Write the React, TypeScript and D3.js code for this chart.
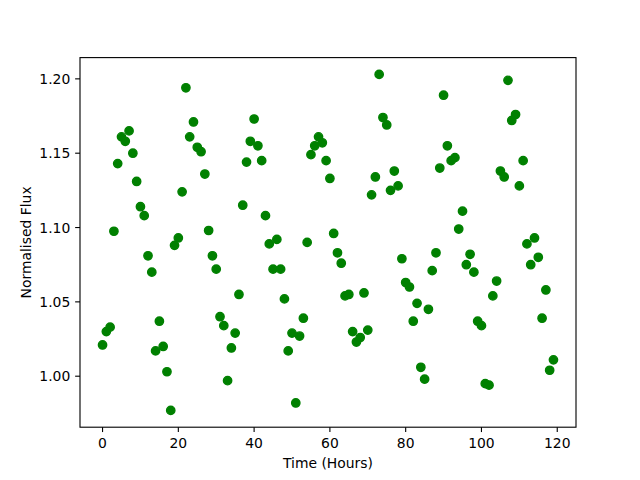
import React from "react";
import * as d3 from "d3";

const hours: number[] = Array.from({ length: 120 }, (_, i) => i);
const flux: number[] = [
  1.021, 1.03, 1.033, 1.0975, 1.143, 1.161, 1.158, 1.165, 1.15, 1.131,
  1.114, 1.108, 1.081, 1.07, 1.017, 1.037, 1.02, 1.003, 0.977, 1.088,
  1.093, 1.124, 1.194, 1.161, 1.171, 1.154, 1.151, 1.136, 1.098, 1.081,
  1.072, 1.04, 1.034, 0.997, 1.019, 1.029, 1.055, 1.115, 1.144, 1.158,
  1.173, 1.155, 1.145, 1.108, 1.089, 1.072, 1.092, 1.072, 1.052, 1.017,
  1.029, 0.982, 1.027, 1.039, 1.09, 1.149, 1.155, 1.161, 1.157, 1.145,
  1.133, 1.096, 1.083, 1.076, 1.054, 1.055, 1.03, 1.023, 1.026, 1.056,
  1.031, 1.122, 1.134, 1.203, 1.174, 1.169, 1.125, 1.138, 1.128, 1.079,
  1.063, 1.06, 1.037, 1.049, 1.006, 0.998, 1.045, 1.071, 1.083, 1.14,
  1.189, 1.155, 1.145, 1.147, 1.099, 1.111, 1.075, 1.082, 1.07, 1.037,
  1.034, 0.995, 0.994, 1.054, 1.064, 1.138, 1.134, 1.199, 1.172, 1.176,
  1.128, 1.145, 1.089, 1.075, 1.093, 1.08, 1.039, 1.058, 1.004, 1.011,
];
const xTicks: number[] = [0, 20, 40, 60, 80, 100, 120];
const yTicks: number[] = [1.0, 1.05, 1.1, 1.15, 1.2];
const xLabel = "Time (Hours)";
const yLabel = "Normalised Flux";

export default function App() {
  const W = 640, H = 480;
  const left = 80, right = 576, top = 57.6, bottom = 427.2;
  const [xmin, xmax] = d3.extent(hours) as [number, number];
  const [ymin, ymax] = d3.extent(flux) as [number, number];
  const xm = (xmax - xmin) * 0.05;
  const ym = (ymax - ymin) * 0.05;
  const x = d3.scaleLinear().domain([xmin - xm, xmax + xm]).range([left, right]);
  const y = d3.scaleLinear().domain([ymin - ym, ymax + ym]).range([bottom, top]);
  const font = "DejaVu Sans, sans-serif";
  const tickLen = 4.86;
  const lw = 1.11;
  return (
    <svg width={W} height={H} style={{ position: "absolute", left: 0, top: 0 }} fontFamily={font}>
      <rect x={0} y={0} width={W} height={H} fill="#fff" />
      <g>
        {hours.map((h, i) => (
          <circle key={i} cx={x(h)} cy={y(flux[i])} r={4.17} fill="#008000" stroke="#008000" strokeWidth={1.39} />
        ))}
      </g>
      <rect x={left} y={top} width={right - left} height={bottom - top} fill="none" stroke="#000" strokeWidth={lw} />
      {xTicks.map((t) => (
        <g key={"x" + t}>
          <line x1={x(t)} x2={x(t)} y1={bottom} y2={bottom + tickLen} stroke="#000" strokeWidth={lw} />
          <text x={x(t)} y={447.5} textAnchor="middle" fontSize={13.9} fill="#000">{d3.format("d")(t)}</text>
        </g>
      ))}
      {yTicks.map((t) => (
        <g key={"y" + t}>
          <line x1={left - tickLen} x2={left} y1={y(t)} y2={y(t)} stroke="#000" strokeWidth={lw} />
          <text x={70.3} y={y(t) + 5} textAnchor="end" fontSize={13.9} fill="#000">{d3.format(".2f")(t)}</text>
        </g>
      ))}
      <text x={(left + right) / 2} y={468} textAnchor="middle" fontSize={13.9} fill="#000">{xLabel}</text>
      <text transform={`translate(31,${(top + bottom) / 2}) rotate(-90)`} textAnchor="middle" fontSize={13.9} fill="#000">{yLabel}</text>
    </svg>
  );
}
